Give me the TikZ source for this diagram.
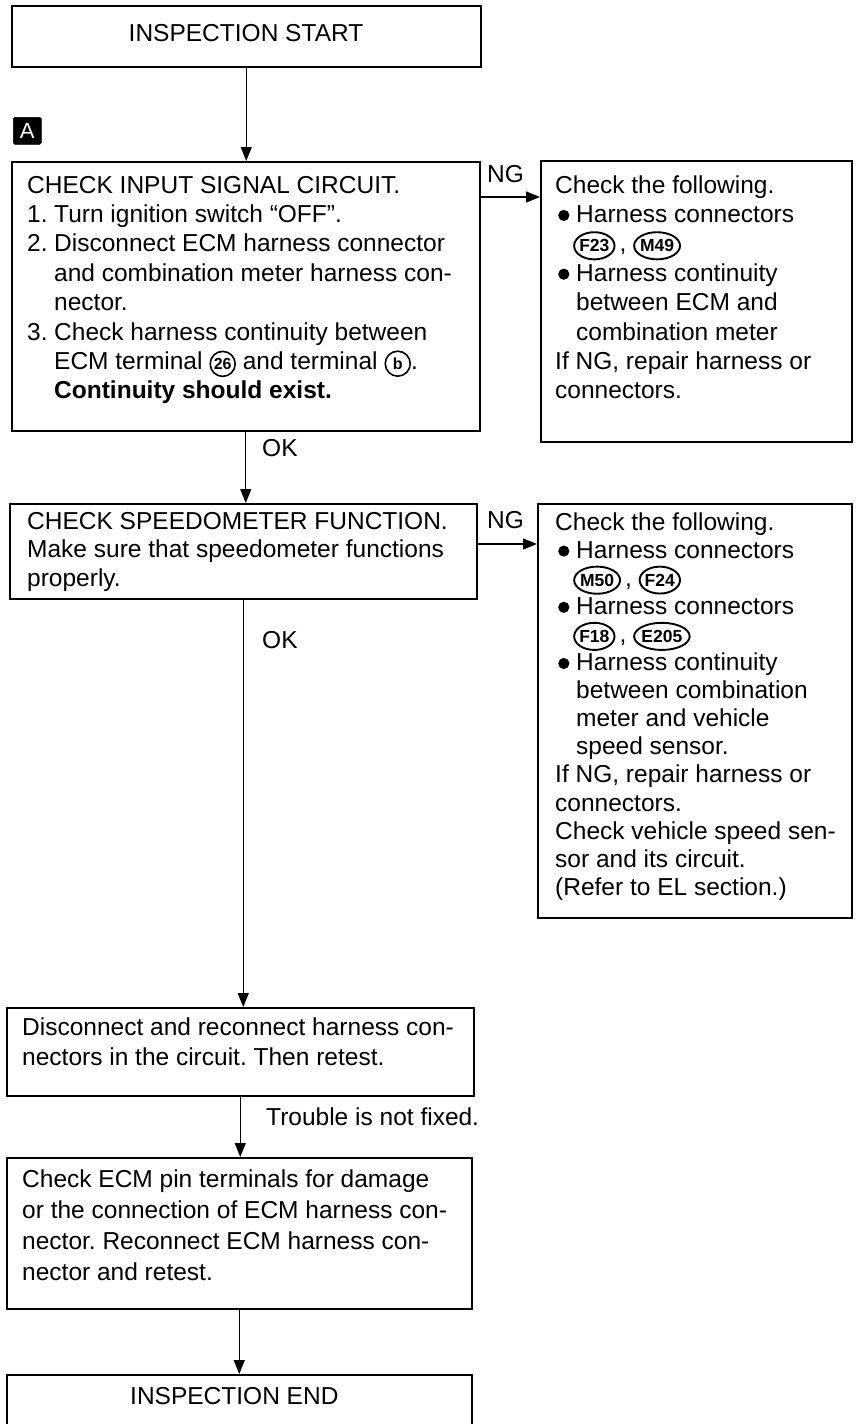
\documentclass[tikz,border=0pt]{standalone}
\usepackage{fontspec}
\setmainfont{Liberation Sans}
\frenchspacing
\usetikzlibrary{arrows.meta,shapes.geometric,calc}
\newcommand\blt{\tikz[baseline=0pt]\fill (0pt,7pt) circle (5.6pt);}
\newcommand\conn[1]{\smash{\tikz[baseline=(C.base)]\node[draw,ellipse,line width=1.9pt,inner xsep=-0.8pt,inner ysep=3.4pt,font=\bfseries\fontsize{17.5}{17.5}\selectfont](C){#1};}}
\newcommand\circd[1]{\smash{\tikz[baseline=(C.base)]\node[draw,circle,line width=1.6pt,inner sep=0.5pt,minimum size=25pt,font=\bfseries\fontsize{16}{16}\selectfont](C){#1};}}
\tikzset{
  box/.style={draw, line width=1.5pt, anchor=north west, inner sep=0pt},
  txt/.style={anchor=base west, inner sep=0pt, font=\fontsize{24.5}{29.4}\selectfont},
  lbl/.style={anchor=base west, inner sep=0pt, font=\fontsize{24.5}{31}\selectfont},
  arr/.style={line width=1.3pt, -{Triangle[length=14pt,width=11pt]}},
}
\begin{document}
\begin{tikzpicture}[x=1pt,y=-1pt]
\useasboundingbox (0,0) rectangle (855,1424);
% boxes
\node[box, minimum width=469pt, minimum height=61pt] (start) at (11,5) {};
\node[inner sep=0pt, font=\fontsize{24.5}{31}\selectfont] (starttxt) at (246,33) {INSPECTION START};
\node[box, fill=black, minimum width=28pt, minimum height=27pt, rounded corners=1.5pt, line width=0.5pt,
      text=white, font=\fontsize{22}{22}\selectfont] (A) at (13,117) {A};
\node[box, minimum width=468pt, minimum height=269pt] (b1) at (11,161) {};
\node[box, minimum width=311pt, minimum height=281pt] (ng1) at (540,160) {};
\node[box, minimum width=467pt, minimum height=95pt] (b2) at (9,503) {};
\node[box, minimum width=314pt, minimum height=414pt] (ng2) at (537,503) {};
\node[box, minimum width=467pt, minimum height=88pt] (b3) at (6,1007) {};
\node[box, minimum width=465pt, minimum height=151pt] (b4) at (6,1157) {};
\node[box, minimum width=465pt, minimum height=90pt] (endb) at (6,1374) {};
% texts
\node[txt] (b1txt) at (27,193) {\begin{tabular}[t]{@{}p{27pt}@{}l@{}}
\multicolumn{2}{@{}l@{}}{CHECK INPUT SIGNAL CIRCUIT.}\\
1. & Turn ignition switch “OFF”.\\
2. & Disconnect ECM harness connector\\
 & and combination meter harness con-\\
 & nector.\\
3. & Check harness continuity between\\
 & ECM terminal \circd{26} and terminal \circd{b}.\\
 & \textbf{Continuity should exist.}
\end{tabular}};
\node[txt] (ng1txt) at (555,193) {\begin{tabular}[t]{@{}p{21pt}@{}l@{}}
\multicolumn{2}{@{}l@{}}{Check the following.}\\
\hspace*{3pt}\blt & Harness connectors\\
 & \hspace*{-3pt}\conn{F23}\,, \conn{M49}\\
\hspace*{3pt}\blt & Harness continuity\\
 & between ECM and\\
 & combination meter\\
\multicolumn{2}{@{}l@{}}{If NG, repair harness or}\\
\multicolumn{2}{@{}l@{}}{connectors.}
\end{tabular}};
\node[txt, font=\fontsize{24.5}{28.5}\selectfont] (b2txt) at (27,529) {\begin{tabular}[t]{@{}l@{}}
CHECK SPEEDOMETER FUNCTION.\\
Make sure that speedometer functions\\
properly.
\end{tabular}};
\node[txt, font=\fontsize{24.5}{28.1}\selectfont] (ng2txt) at (555,530) {\begin{tabular}[t]{@{}p{21pt}@{}l@{}}
\multicolumn{2}{@{}l@{}}{Check the following.}\\
\hspace*{3pt}\blt & Harness connectors\\
 & \hspace*{-3pt}\conn{M50}\,, \conn{F24}\\
\hspace*{3pt}\blt & Harness connectors\\
 & \hspace*{-3pt}\conn{F18}\,, \conn{E205}\\
\hspace*{3pt}\blt & Harness continuity\\
 & between combination\\
 & meter and vehicle\\
 & speed sensor.\\
\multicolumn{2}{@{}l@{}}{If NG, repair harness or}\\
\multicolumn{2}{@{}l@{}}{connectors.}\\
\multicolumn{2}{@{}l@{}}{Check vehicle speed sen-}\\
\multicolumn{2}{@{}l@{}}{sor and its circuit.}\\
\multicolumn{2}{@{}l@{}}{(Refer to EL section.)}
\end{tabular}};
\node[txt, font=\fontsize{24.5}{30.5}\selectfont] (b3txt) at (22,1035) {\begin{tabular}[t]{@{}l@{}}
Disconnect and reconnect harness con-\\
nectors in the circuit. Then retest.
\end{tabular}};
\node[txt, font=\fontsize{24.5}{31.3}\selectfont] (b4txt) at (22,1187) {\begin{tabular}[t]{@{}l@{}}
Check ECM pin terminals for damage\\
or the connection of ECM harness con-\\
nector. Reconnect ECM harness con-\\
nector and retest.
\end{tabular}};
\node[txt] (endtxt) at (130,1404) {INSPECTION END};
% connector labels
\node[lbl] (ng1lbl) at (487,182) {NG};
\node[lbl] (ng2lbl) at (487,528) {NG};
\node[lbl] (ok1) at (262,456) {OK};
\node[lbl] (ok2) at (262,648) {OK};
\node[lbl] (tr) at (266,1125) {Trouble is not fixed.};
% connectors
\coordinate (n1s) at (479,197);
\coordinate (n2s) at (476,544);
\draw[arr] (start.south) -- (start.south |- b1.north);
\draw[arr] (n1s) -- (n1s -| ng1.west);
\draw[arr] (b1.south) -- (b1.south |- b2.north);
\draw[arr] (n2s) -- (n2s -| ng2.west);
\draw[arr] (b2.south) -- (b2.south |- b3.north);
\draw[arr] (b3.south) -- (b3.south |- b4.north);
\draw[arr] (b4.south) -- (b4.south |- endb.north);
\end{tikzpicture}
\end{document}
